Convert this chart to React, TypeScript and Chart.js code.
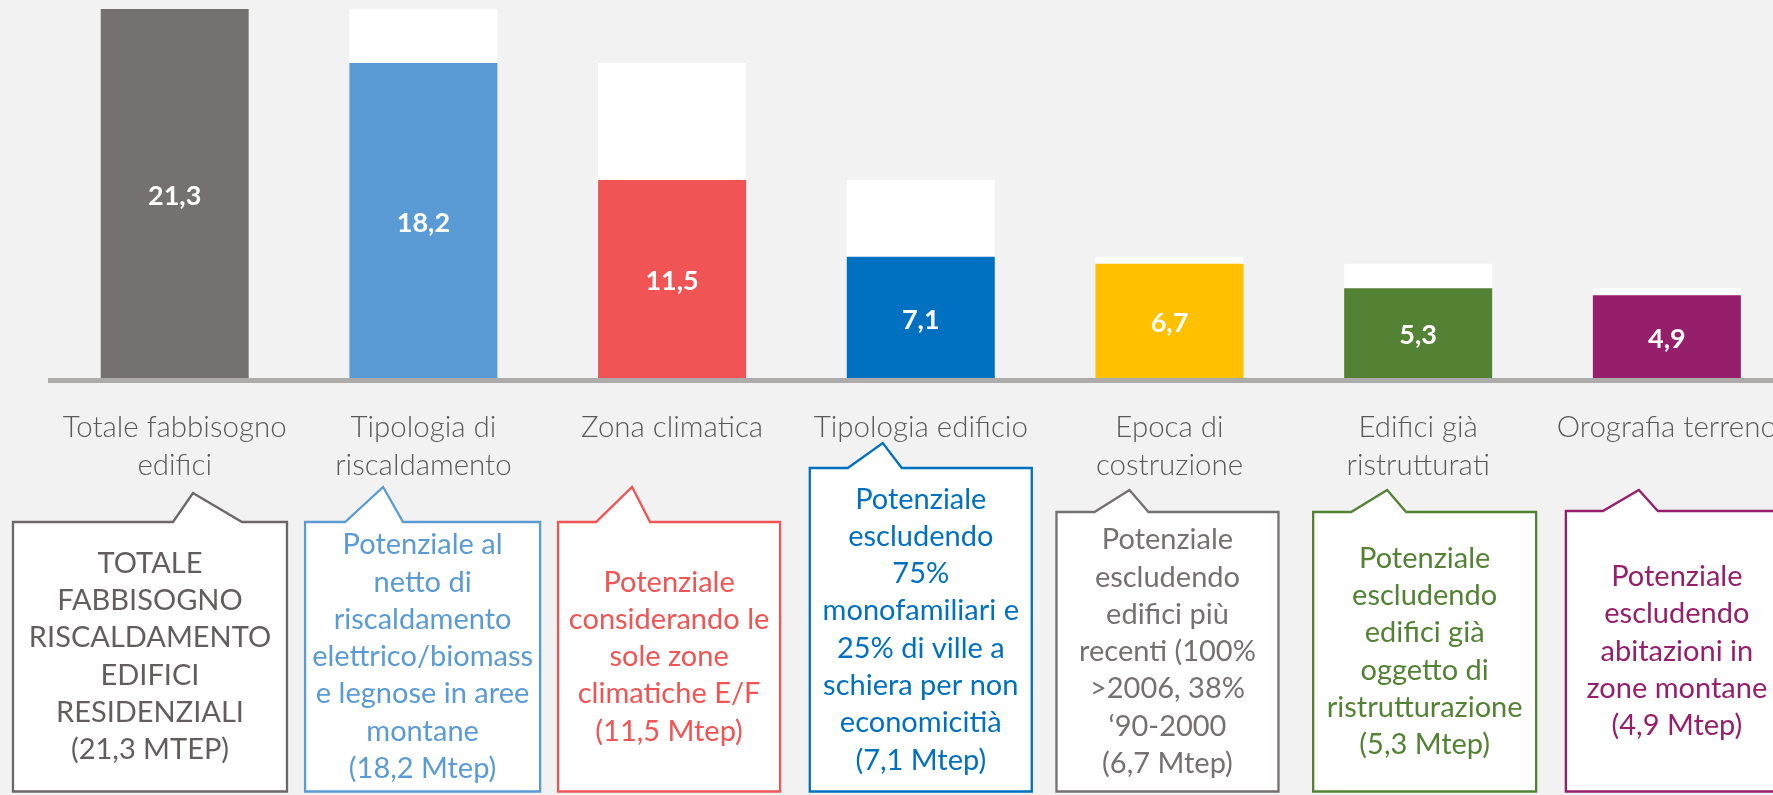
import React, { useEffect, useRef } from "react";
import { Chart, registerables } from "chart.js";

Chart.register(...registerables);

// ---------- DATA ----------
const categories: string[][] = [
  ["Totale fabbisogno", "edifici"],
  ["Tipologia di", "riscaldamento"],
  ["Zona climatica"],
  ["Tipologia edificio"],
  ["Epoca di", "costruzione"],
  ["Edifici già", "ristrutturati"],
  ["Orografia terreno"],
];

// potential remaining after each filter (Mtep)
const potentialValues = [21.3, 18.2, 11.5, 7.1, 6.7, 5.3, 4.9];
// level of the previous step (white part of each bar)
const previousLevels: (number | null)[] = [null, 21.3, 18.2, 11.5, 7.1, 6.7, 5.3];
const valueLabels = ["21,3", "18,2", "11,5", "7,1", "6,7", "5,3", "4,9"];

const calloutTexts: string[][] = [
  ["TOTALE", "FABBISOGNO", "RISCALDAMENTO", "EDIFICI", "RESIDENZIALI", "(21,3 MTEP)"],
  ["Potenziale al", "netto di", "riscaldamento", "elettrico/biomass", "e legnose in aree", "montane", "(18,2 Mtep)"],
  ["Potenziale", "considerando le", "sole zone", "climatiche E/F", "(11,5 Mtep)"],
  ["Potenziale", "escludendo", "75%", "monofamiliari e", "25% di ville a", "schiera per non", "economicitià", "(7,1 Mtep)"],
  ["Potenziale", "escludendo", "edifici più", "recenti (100%", ">2006, 38%", "‘90-2000", "(6,7 Mtep)"],
  ["Potenziale", "escludendo", "edifici già", "oggetto di", "ristrutturazione", "(5,3 Mtep)"],
  ["Potenziale", "escludendo", "abitazioni in", "zone montane", "(4,9 Mtep)"],
];

// ---------- STYLES ----------
const barColors = ["#757171", "#5B9BD5", "#F05454", "#0070C0", "#FFC000", "#548235", "#961F6B"];
const calloutStroke = ["#6B6767", "#5B9BD5", "#F05454", "#0070C0", "#767171", "#548235", "#961F6B"];
const calloutTextColors = ["#625E5E", "#5B9BD5", "#F05454", "#0070C0", "#767171", "#548235", "#961F6B"];

// callout geometry relative to the category pixel: [left, right, top, ptrLeft, apexX, apexY, ptrRight]
const calloutGeom: number[][] = [
  [-161.7, 112.3, 522, -1.7, 18.3, 493, 67.3],
  [-118.3, 116.7, 522, -78.3, -40.3, 487, -20.3],
  [-114, 108, 522, -76, -40, 487, -22],
  [-111, 111, 468, -73, -38, 443, -19],
  [-113, 109, 512, -75, -40, 490, -21],
  [-105, 118, 512, -67, -31, 490, -12],
  [-101, 121, 511, -64, -28, 490, -9],
];
const CALLOUT_BOTTOM = 791.5;
const CALLOUT_LINE_H = 37.3;
const FONT = "Lato, 'Open Sans', sans-serif";

const CANVAS_W = 1830;
const CANVAS_H = 795;

const overlayPlugin = {
  id: "overlay",
  afterDatasetsDraw(chart: any) {
    const ctx = chart.ctx;
    const meta = chart.getDatasetMeta(1);
    ctx.save();
    ctx.fillStyle = "#FFFFFF";
    ctx.font = `bold 27px ${FONT}`;
    ctx.textAlign = "center";
    ctx.textBaseline = "middle";
    meta.data.forEach((el: any, i: number) => {
      const cy = (el.y + el.base) / 2;
      ctx.fillText(valueLabels[i], el.x, cy + 1);
    });
    ctx.restore();
  },
  afterDraw(chart: any) {
    const ctx = chart.ctx;
    const xs = chart.scales.x;
    ctx.save();
    calloutTexts.forEach((lines, i) => {
      const cx = xs.getPixelForValue(i);
      const [l, r, top, pl, ax, ay, pr] = calloutGeom[i];
      const left = cx + l;
      const right = cx + r;
      ctx.beginPath();
      ctx.moveTo(left, top);
      ctx.lineTo(cx + pl, top);
      ctx.lineTo(cx + ax, ay);
      ctx.lineTo(cx + pr, top);
      ctx.lineTo(right, top);
      ctx.lineTo(right, CALLOUT_BOTTOM);
      ctx.lineTo(left, CALLOUT_BOTTOM);
      ctx.closePath();
      ctx.fillStyle = "#FFFFFF";
      ctx.fill();
      ctx.lineWidth = 2.3;
      ctx.lineJoin = "miter";
      ctx.strokeStyle = calloutStroke[i];
      ctx.stroke();

      ctx.fillStyle = calloutTextColors[i];
      ctx.font = `29px ${FONT}`;
      ctx.textAlign = "center";
      ctx.textBaseline = "middle";
      const midX = (left + right) / 2;
      const midY = (top + CALLOUT_BOTTOM) / 2;
      const startY = midY - ((lines.length - 1) * CALLOUT_LINE_H) / 2;
      lines.forEach((t, k) => ctx.fillText(t, midX, startY + k * CALLOUT_LINE_H));
    });
    ctx.restore();
  },
};

export default function App() {
  const ref = useRef<HTMLCanvasElement | null>(null);

  useEffect(() => {
    if (!ref.current) return;
    const chart = new Chart(ref.current, {
      type: "bar",
      data: {
        labels: categories,
        datasets: [
          {
            label: "Livello precedente",
            data: previousLevels.map((p, i) => (p == null ? null : [potentialValues[i], p])) as any,
            backgroundColor: "#FFFFFF",
            borderWidth: 0,
            grouped: false,
            order: 2,
            barPercentage: 0.595,
            categoryPercentage: 1,
          },
          {
            label: "Potenziale",
            data: potentialValues,
            backgroundColor: barColors,
            borderWidth: 0,
            grouped: false,
            order: 1,
            barPercentage: 0.595,
            categoryPercentage: 1,
          },
        ],
      },
      options: {
        responsive: false,
        animation: false,
        devicePixelRatio: 1,
        layout: { padding: { left: 50.35, right: CANVAS_W - 1791.2, top: 0, bottom: 0 } },
        plugins: { legend: { display: false }, tooltip: { enabled: false } },
        scales: {
          y: { display: false, min: 0, max: 21.816 },
          x: {
            grid: { display: false },
            border: { display: true, color: "#AEABAB", width: 5, z: 1 },
            ticks: {
              color: "#595959",
              font: { family: FONT, size: 29.5, weight: "300" as any, lineHeight: 37.5 / 29.5 },
              padding: 20.4,
              maxRotation: 0,
              minRotation: 0,
              autoSkip: false,
            },
            afterFit: (s: any) => {
              s.height = CANVAS_H - 380.8;
            },
          } as any,
        },
      },
      plugins: [overlayPlugin],
    });
    return () => chart.destroy();
  }, []);

  return (
    <div
      style={{
        position: "fixed",
        left: 0,
        top: 0,
        width: 1773,
        height: 795,
        overflow: "hidden",
        background: "#F2F2F2",
      }}
    >
      <canvas ref={ref} width={CANVAS_W} height={CANVAS_H} style={{ width: CANVAS_W, height: CANVAS_H, display: "block" }} />
    </div>
  );
}
